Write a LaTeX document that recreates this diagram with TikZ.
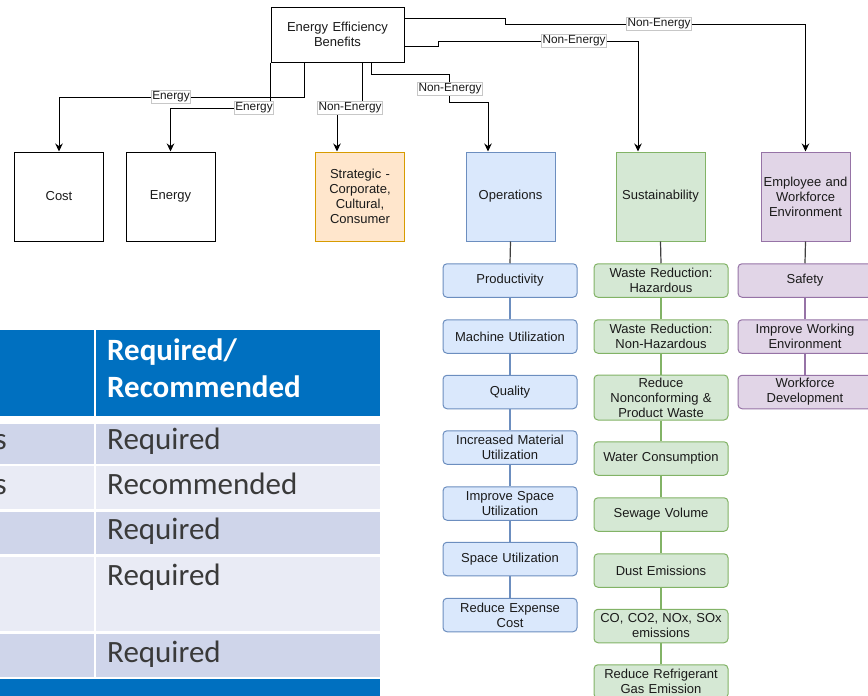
\documentclass[tikz,border=0pt]{standalone}
\usepackage{fontspec}
\setmainfont{Liberation Sans}
\newfontfamily\tablefont{Carlito}
\usetikzlibrary{arrows.meta}

\definecolor{opsfill}{HTML}{DAE8FC}
\definecolor{opsline}{HTML}{6C8EBF}
\definecolor{susfill}{HTML}{D5E8D4}
\definecolor{susline}{HTML}{82B366}
\definecolor{empfill}{HTML}{E1D5E7}
\definecolor{empline}{HTML}{9673A6}
\definecolor{strfill}{HTML}{FFE6CC}
\definecolor{strline}{HTML}{D79B00}
\definecolor{tblblue}{HTML}{0070C0}
\definecolor{rowdark}{HTML}{CFD5EA}
\definecolor{rowlight}{HTML}{E9EBF5}
\definecolor{tbltext}{HTML}{3A3A3A}
\definecolor{inktext}{HTML}{1A1A1A}

\tikzset{
  boxfont/.style={font=\fontsize{13}{15}\selectfont, text=inktext},
  catbox/.style={boxfont, draw=black, line width=1pt, minimum width=89pt,
    minimum height=89pt, text width=85pt, inner sep=2pt, align=center},
  subbox/.style={boxfont, rounded corners=4pt, line width=1pt, minimum width=134pt,
    minimum height=33.5pt, text width=130pt, inner sep=2pt, align=center},
  opsbox/.style={subbox, draw=opsline, fill=opsfill},
  susbox/.style={subbox, draw=susline, fill=susfill},
  empbox/.style={subbox, draw=empline, fill=empfill},
  elabel/.style={fill=white, draw=black!22, line width=0.5pt, inner sep=1pt,
    font=\fontsize{11.8}{13}\selectfont, text=inktext},
  arr/.style={draw=black, line width=1pt, -{Stealth[length=8pt,width=7.5pt]}},
  stem/.style={draw=black!75, line width=1.2pt},
  tblhead/.style={anchor=base west, inner sep=0pt, text=white,
    font=\tablefont\bfseries\fontsize{31}{37}\selectfont},
  tblcell/.style={anchor=base west, inner sep=0pt, text=tbltext,
    font=\tablefont\fontsize{31}{37}\selectfont},
}

\begin{document}
\begin{tikzpicture}[x=1pt,y=-1pt]
\useasboundingbox (0,0) rectangle (868,696);

% ---------- table ----------
\fill[tblblue] (0,330) rectangle (94,416);
\fill[tblblue] (96,330) rectangle (380,416);
\fill[rowdark]  (0,424) rectangle (94,464);  \fill[rowdark]  (96,424) rectangle (380,464);
\fill[rowlight] (0,466) rectangle (94,509);  \fill[rowlight] (96,466) rectangle (380,509);
\fill[rowdark]  (0,512) rectangle (94,554);  \fill[rowdark]  (96,512) rectangle (380,554);
\fill[rowlight] (0,557) rectangle (94,631);  \fill[rowlight] (96,557) rectangle (380,631);
\fill[rowdark]  (0,634) rectangle (94,677);  \fill[rowdark]  (96,634) rectangle (380,677);
\fill[tblblue] (0,679) rectangle (380,700);

\node[tblhead] (th1) at (107,360) {Required/};
\node[tblhead] (th2) at (107,397) {Recommended};
\node[tblcell] (r1) at (107,449) {Required};
\node[tblcell] (r2) at (107,494) {Recommended};
\node[tblcell] (r3) at (107,539) {Required};
\node[tblcell] (r4) at (107,585) {Required};
\node[tblcell] (r5) at (107,662) {Required};
\node[tblcell, anchor=base east] (l1) at (7,449) {s};
\node[tblcell, anchor=base east] (l2) at (7,494) {s};

% ---------- root ----------
\node[boxfont, draw=black, line width=1pt, minimum width=133pt, minimum height=55pt,
  text width=129pt, inner sep=2pt, align=center] (eeb) at (337.5,34.5)
  {Energy Efficiency\\Benefits};

% ---------- categories ----------
\node[catbox] (cost)   at (59,196.5)    {Cost};
\node[catbox] (energy) at (170.5,196.5) {Energy};
\node[catbox, draw=strline, fill=strfill] (strat) at (360,196.5)
  {Strategic -\\Corporate,\\Cultural,\\Consumer};
\node[catbox, draw=opsline, fill=opsfill] (ops) at (510.5,196.5) {Operations};
\node[catbox, draw=susline, fill=susfill] (sus) at (660.5,196.5) {Sustainability};
\node[catbox, draw=empline, fill=empfill] (emp) at (805.5,196.5)
  {Employee and\\Workforce\\Environment};

% ---------- operations items ----------
\node[opsbox] (o1) at (510,280.5) {Productivity};
\node[opsbox] (o2) at (510,336.5) {Machine Utilization};
\node[opsbox] (o3) at (510,392)   {Quality};
\node[opsbox] (o4) at (510,447.5) {Increased Material\\Utilization};
\node[opsbox] (o5) at (510,503.5) {Improve Space\\Utilization};
\node[opsbox] (o6) at (510,559)   {Space Utilization};
\node[opsbox] (o7) at (510,615)   {Reduce Expense\\Cost};

% ---------- sustainability items ----------
\node[susbox] (s1) at (661,280.5) {Waste Reduction:\\Hazardous};
\node[susbox] (s2) at (661,336.5) {Waste Reduction:\\Non-Hazardous};
\node[susbox, minimum height=45pt] (s3) at (661,397.5)
  {Reduce\\Nonconforming \&\\Product Waste};
\node[susbox] (s4) at (661,458.5) {Water Consumption};
\node[susbox] (s5) at (661,514.5) {Sewage Volume};
\node[susbox] (s6) at (661,570.5) {Dust Emissions};
\node[susbox] (s7) at (661,626)   {CO, CO2, NOx, SOx\\emissions};
\node[susbox] (s8) at (661,681.5) {Reduce Refrigerant\\Gas Emission};

% ---------- employee items ----------
\node[empbox] (e1) at (805,280.5) {Safety};
\node[empbox] (e2) at (805,336.5) {Improve Working\\Environment};
\node[empbox] (e3) at (805,392)   {Workforce\\Development};

% ---------- chains ----------
\draw[stem] (ops.south) -- (o1.north);
\draw[stem] (sus.south) -- (s1.north);
\draw[stem] (emp.south) -- (e1.north);
\foreach \a/\b in {o1/o2,o2/o3,o3/o4,o4/o5,o5/o6,o6/o7}
  \draw[opsline, line width=1.2pt] (\a.south) -- (\b.north);
\foreach \a/\b in {s1/s2,s2/s3,s3/s4,s4/s5,s5/s6,s6/s7,s7/s8}
  \draw[susline, line width=1.2pt] (\a.south) -- (\b.north);
\foreach \a/\b in {e1/e2,e2/e3}
  \draw[empline, line width=1.2pt] (\a.south) -- (\b.north);

% ---------- root connectors ----------
\draw[arr] ([xshift=-33.5pt]eeb.south) -- ++(0,35) -| (cost.north);
\draw[arr] (eeb.south west) -- ++(0,46) -| (energy.north);
\draw[arr] ([xshift=24.5pt]eeb.south) -- ++(0,46) -| ([xshift=-23pt]strat.north);
\draw[arr] ([xshift=33.5pt]eeb.south) -- ++(0,12) -| (449,102) -| ([xshift=-22.5pt]ops.north);
\draw[arr] ([yshift=-11.5pt]eeb.east) -- ++(34,0) -- ++(0,-5) -| ([xshift=-22.5pt]sus.north);
\draw[arr] ([yshift=16.5pt]eeb.east) -- ++(101,0) -- ++(0,6) -| (emp.north);

% ---------- connector labels ----------
\node[elabel] (lab1) at (171,97)  {Energy};
\node[elabel] (lab2) at (254,108) {Energy};
\node[elabel] (lab3) at (350,108) {Non-Energy};
\node[elabel] (lab4) at (450,89)  {Non-Energy};
\node[elabel] (lab5) at (574,41)  {Non-Energy};
\node[elabel] (lab6) at (659,24)  {Non-Energy};
\end{tikzpicture}
\end{document}
